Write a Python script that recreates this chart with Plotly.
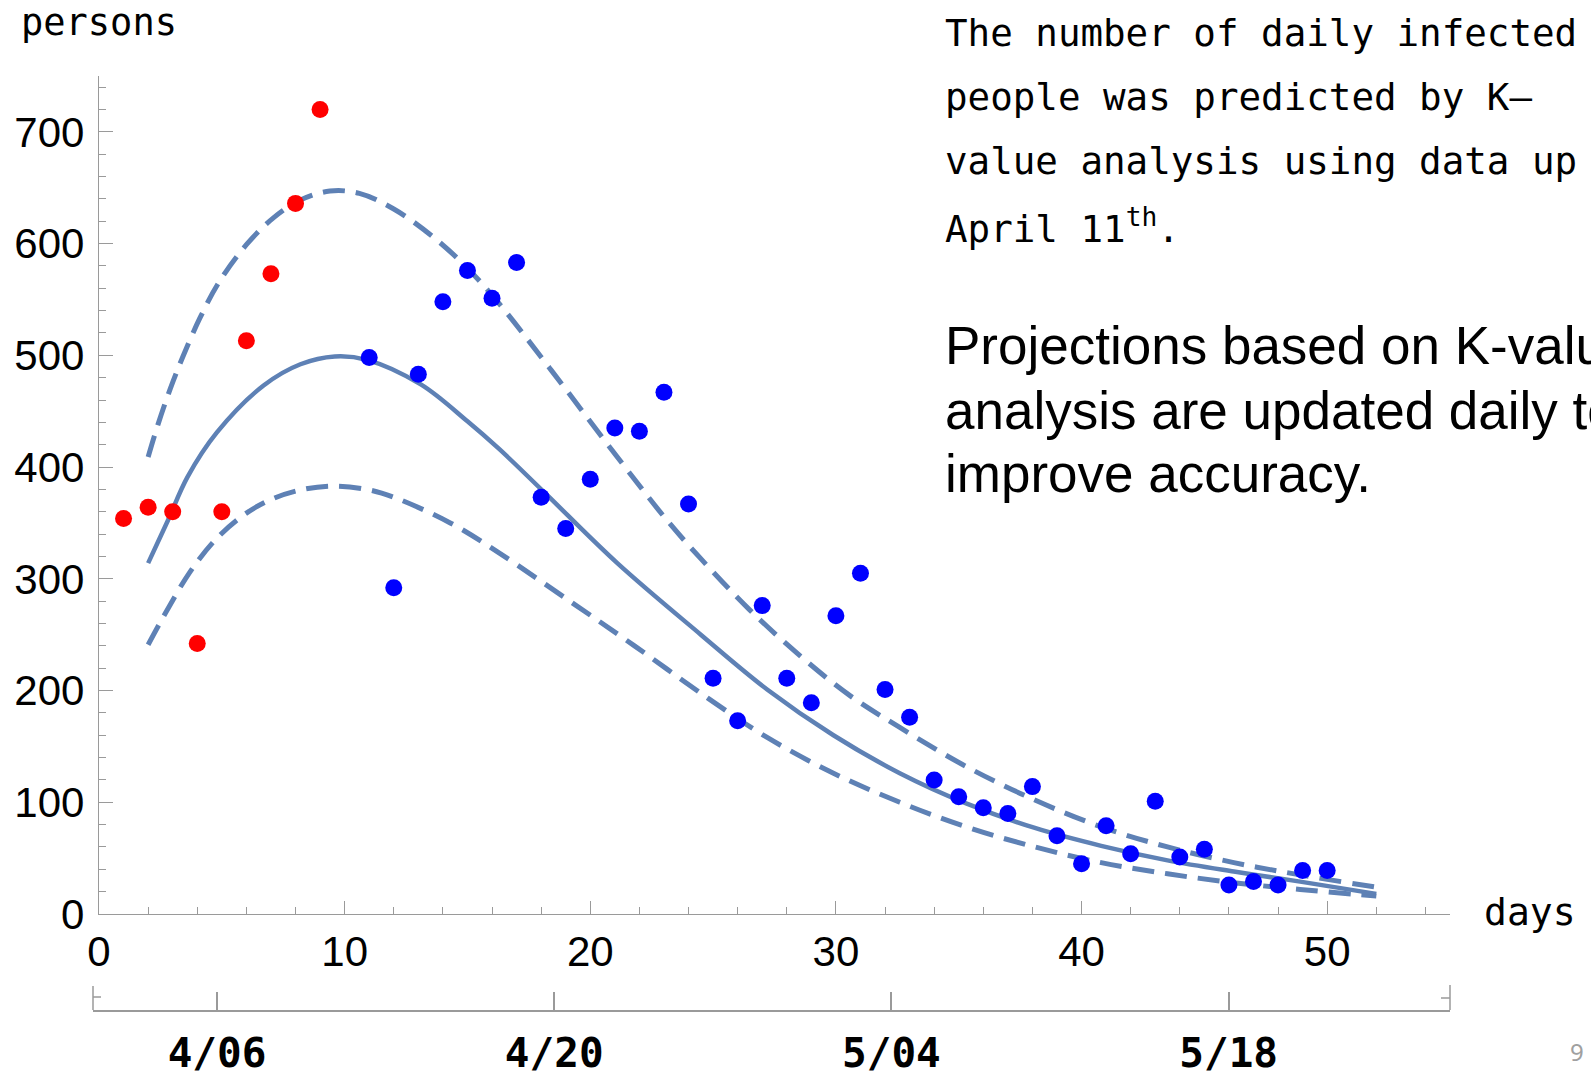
import plotly.graph_objects as go

# ---------------- data ----------------
red_days = [1, 2, 3, 4, 5, 6, 7, 8, 9]
red_vals = [354, 364, 360, 242, 360, 513, 573, 636, 720]

blue_days = list(range(11, 51))
blue_vals = [498, 292, 483, 548, 576, 551, 583, 373, 345, 389,
             435, 432, 467, 367, 211, 173, 276, 211, 189, 267,
             305, 201, 176, 120, 105, 95, 90, 114, 70, 45,
             79, 54, 101, 51, 58, 26, 29, 26, 39, 39]

# central projection (solid)
mid_x = [2.0, 2.8, 3.6, 4.8, 6.7, 8.2, 9.6, 10.9, 13.1, 15.0, 16.3, 18.1,
         21.1, 24.5, 27.2, 29.9, 32.6, 35.3, 38.1, 40.8, 43.5, 46.2, 48.9, 52.0]
mid_y = [314, 352, 391, 431, 473, 492, 499, 496, 474, 441, 416, 378,
         314, 250, 201, 160, 126, 99, 77, 61, 48, 38, 29, 18]

# upper band (dashed)
up_x = [2.0, 2.4, 2.9, 3.4, 4.1, 4.9, 6.0, 7.1, 8.2, 9.4, 10.6, 12.0, 13.6, 15.0,
        16.3, 18.4, 21.1, 23.1, 24.5, 26.5, 28.6, 30.6, 32.6, 35.3, 38.1,
        40.8, 43.5, 46.2, 48.9, 52.0]
up_y = [409, 438, 470, 498, 533, 566, 599, 623, 639, 647, 645, 631, 606, 578,
        546, 487, 409, 353, 318, 272, 230, 195, 167, 132, 102,
        78, 60, 46, 35, 24]

# lower band (dashed)
low_x = [2.0, 2.8, 3.7, 4.7, 5.7, 6.8, 8.1, 9.5, 10.9, 12.0, 14.3, 16.3, 19.1,
         21.8, 24.8, 27.2, 29.9, 32.6, 35.3, 38.1, 40.8, 43.5, 46.2, 48.9, 52.0]
low_y = [241, 273, 306, 334, 354, 369, 379, 383, 380, 373, 350, 323, 281,
         240, 193, 158, 126, 100, 78, 60, 46, 36, 28, 22, 16]

date_ticks = ["2020-04-06", "2020-04-20", "2020-05-04", "2020-05-18"]
date_labels = ["4/06", "4/20", "5/04", "5/18"]
date_range = ["2020-03-31 20:25", "2020-05-27 04:34"]

para1 = ["The number of daily infected",
         "people was predicted by K\u2013",
         "value analysis using data up to",
         "April 11<sup>th</sup>."]
para2 = ["Projections based on K-value",
         "analysis are updated daily to",
         "improve accuracy."]

# ---------------- layout geometry ----------------
W, H = 1591, 1073
L, R, T, B = 93, 141, 76, 63
PW, PH = W - L - R, H - T - B


def px(X):
    return (X - L) / PW


def py(Y):
    return (H - B - Y) / PH


GREY = "#9a9a9a"
LINE = "#5E81B5"
ARIAL = "Liberation Sans, Arial, sans-serif"
MONO = "DejaVu Sans Mono, monospace"

fig = go.Figure()

fig.add_trace(go.Scatter(x=up_x, y=up_y, mode="lines", line_shape="spline",
                         line=dict(color=LINE, width=5, dash="22px,11px"),
                         hoverinfo="skip", showlegend=False))
fig.add_trace(go.Scatter(x=low_x, y=low_y, mode="lines", line_shape="spline",
                         line=dict(color=LINE, width=5, dash="22px,11px"),
                         hoverinfo="skip", showlegend=False))
fig.add_trace(go.Scatter(x=mid_x, y=mid_y, mode="lines", line_shape="spline",
                         line=dict(color=LINE, width=4.5),
                         hoverinfo="skip", showlegend=False))
fig.add_trace(go.Scatter(x=red_days, y=red_vals, mode="markers",
                         marker=dict(color="#FF0000", size=17, line=dict(width=0)),
                         showlegend=False))
fig.add_trace(go.Scatter(x=blue_days, y=blue_vals, mode="markers",
                         marker=dict(color="#0000FF", size=17, line=dict(width=0)),
                         showlegend=False))
# carrier trace for the calendar axis (thin hidden strip subplot)
fig.add_trace(go.Scatter(x=date_ticks, y=[0.5] * len(date_ticks), mode="markers",
                         marker=dict(opacity=0), xaxis="x2", yaxis="y2",
                         showlegend=False, hoverinfo="skip"))

fig.update_layout(
    template="none",
    width=W, height=H,
    margin=dict(l=L, r=R, t=T, b=B, pad=0),
    paper_bgcolor="white", plot_bgcolor="white",
    showlegend=False,
    xaxis=dict(domain=[px(99), 1], range=[0, 55], anchor="y", automargin=False,
               tickmode="linear", tick0=0, dtick=10,
               ticks="inside", ticklen=13, tickwidth=1, tickcolor=GREY,
               minor=dict(dtick=2, tick0=0, ticks="inside", ticklen=7, tickcolor=GREY, tickwidth=1),
               showline=True, linecolor=GREY, linewidth=1.3,
               showgrid=False, zeroline=False,
               tickfont=dict(family=ARIAL, size=42, color="black"),
               ticklabelstandoff=0),
    yaxis=dict(domain=[py(914), 1], range=[0, 750], anchor="x", automargin=False,
               tickmode="linear", tick0=0, dtick=100,
               ticks="inside", ticklen=14, tickwidth=1, tickcolor=GREY,
               minor=dict(dtick=20, tick0=0, ticks="inside", ticklen=7, tickcolor=GREY, tickwidth=1),
               showline=True, linecolor=GREY, linewidth=1.3,
               showgrid=False, zeroline=False,
               tickfont=dict(family=ARIAL, size=42, color="black"),
               ticklabelstandoff=5),
    xaxis2=dict(domain=[0, 1], anchor="y2", type="date", automargin=False,
                range=date_range, tickmode="array", tickvals=date_ticks, ticktext=date_labels,
                ticks="inside", ticklen=18, tickwidth=1.5, tickcolor=GREY,
                showline=True, linecolor=GREY, linewidth=1.5,
                showgrid=False, zeroline=False,
                tickfont=dict(family=MONO, size=41, color="black", weight="bold"),
                ticklabelstandoff=6),
    yaxis2=dict(domain=[0, 0.02], anchor="x2", range=[0, 1], visible=False,
                automargin=False),
)

# end brackets of the calendar axis
shapes = [
    dict(type="line", xref="paper", yref="paper", x0=0, x1=0, y0=0, y1=py(986)),
    dict(type="line", xref="paper", yref="paper", x0=0, x1=px(101), y0=py(997), y1=py(997)),
    dict(type="line", xref="paper", yref="paper", x0=1, x1=1, y0=0, y1=py(985)),
    dict(type="line", xref="paper", yref="paper", x0=px(1441), x1=1, y0=py(998), y1=py(998)),
]
for s in shapes:
    s["line"] = dict(color=GREY, width=1.5)
fig.update_layout(shapes=shapes)

ann = []
ann.append(dict(text="persons", x=px(19), y=py(22), xanchor="left", yanchor="middle",
                font=dict(family=MONO, size=37, color="black")))
ann.append(dict(text="days", x=px(1482), y=py(912), xanchor="left", yanchor="middle",
                font=dict(family=MONO, size=38, color="black")))
p1_y = [33.5, 96.5, 161, 226]
for t, yy in zip(para1, p1_y):
    ann.append(dict(text=t, x=px(943), y=py(yy), xanchor="left", yanchor="middle",
                    font=dict(family=MONO, size=37.5, color="black")))
p2_y = [346, 410, 473]
for t, yy in zip(para2, p2_y):
    ann.append(dict(text=t, x=px(943), y=py(yy), xanchor="left", yanchor="middle",
                    font=dict(family=ARIAL, size=53, color="black")))
ann.append(dict(text="9", x=px(1577), y=py(1051), xanchor="center", yanchor="middle",
                font=dict(family="Noto Sans, sans-serif", size=24, color="#a0a0a0")))
for a in ann:
    a.update(xref="paper", yref="paper", showarrow=False)
fig.update_layout(annotations=ann)

fig.write_html("out.html")
